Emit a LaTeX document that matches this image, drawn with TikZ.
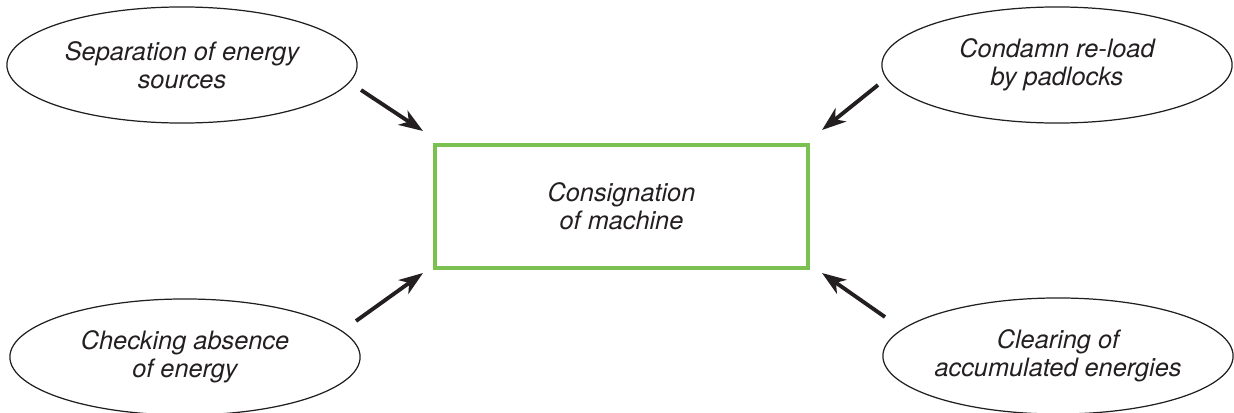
\documentclass[tikz,border=0pt]{standalone}
\usepackage{fontspec}
\setmainfont{TeX Gyre Heros}
\usepackage{tikz}
\usetikzlibrary{shapes.geometric}
\usetikzlibrary{arrows.meta}

\definecolor{lockgreen}{RGB}{122,193,82}
\definecolor{inkgray}{RGB}{35,31,32}

\tikzset{
  task/.style={ellipse, draw=inkgray, line width=0.35pt, minimum width=3.5cm, minimum height=1.16cm,
    inner sep=0pt, align=center, text=inkgray, font=\fontsize{7.2}{8}\selectfont\itshape},
  target/.style={rectangle, draw=lockgreen, line width=1.1pt, minimum width=3.73cm, minimum height=1.23cm,
    align=center, text=inkgray, font=\fontsize{7.2}{6.6}\selectfont\itshape},
  feed/.style={draw=inkgray, line width=1.1pt, -{Stealth[length=2.4mm, width=1.7mm, inset=0.7mm]}}
}

\begin{document}
\begin{tikzpicture}[x=0.01cm, y=-0.01cm]
  \useasboundingbox (0,0) rectangle (1234,412);

  % machine in the middle, the four steps round it
  \node[target] (machine) at (621.5,206.5) {Consignation\\of machine};
  \node[task] (separation) at (182,65) {Separation of energy\\sources};
  \node[task] (padlocks) at (1057,65) {Condamn re-load\\by padlocks};
  \node[task] (checking) at (185,357) {Checking absence\\of energy};
  \node[task] (clearing) at (1058,356) {Clearing of\\accumulated energies};

  \coordinate (separation-out) at (361,90);
  \coordinate (separation-in) at (423,131);
  \coordinate (padlocks-out) at (878,85);
  \coordinate (padlocks-in) at (822,130);
  \coordinate (checking-out) at (356,321);
  \coordinate (checking-in) at (423,273);
  \coordinate (clearing-out) at (885,317);
  \coordinate (clearing-in) at (822,273);

  \draw[feed] (separation-out) -- (separation-in);
  \draw[feed] (padlocks-out) -- (padlocks-in);
  \draw[feed] (checking-out) -- (checking-in);
  \draw[feed] (clearing-out) -- (clearing-in);
\end{tikzpicture}
\end{document}
